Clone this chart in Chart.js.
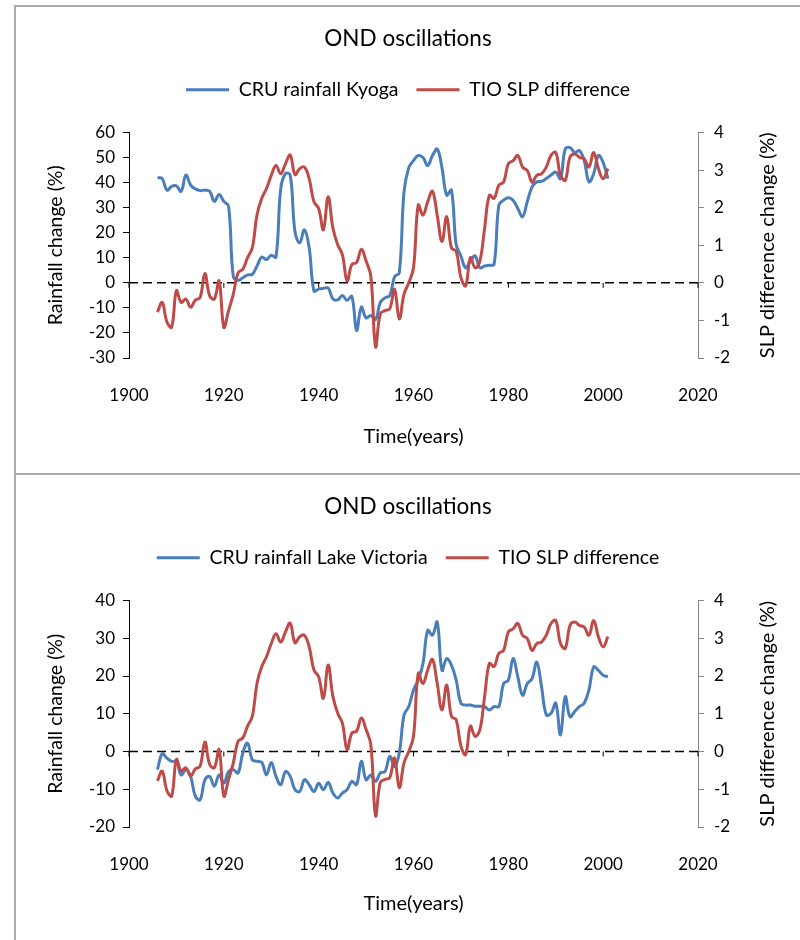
<!DOCTYPE html>
<html>
<head>
<meta charset="utf-8">
<title>OND oscillations</title>
<script src="https://cdn.jsdelivr.net/npm/chart.js@4.4.1/dist/chart.umd.min.js"></script>
<style>
body { margin: 0; background: #fff; width: 800px; height: 940px; overflow: hidden; position: relative; }
.box { position: absolute; left: 14px; width: 800px; border-top: 2px solid #ababab; border-left: 2px solid #ababab; box-sizing: border-box; }
#box1 { top: 5px; height: 468px; }
#box2 { top: 473px; height: 480px; }
canvas { display: block; }
</style>
</head>
<body>
<div class="box" id="box1"><canvas id="chart1" width="784" height="466"></canvas></div>
<div class="box" id="box2"><canvas id="chart2" width="784" height="465"></canvas></div>
<script>
// values, one per year
var years = [1906, 1907, 1908, 1909, 1910, 1911, 1912, 1913, 1914, 1915,
  1916, 1917, 1918, 1919, 1920, 1921, 1922, 1923, 1924, 1925,
  1926, 1927, 1928, 1929, 1930, 1931, 1932, 1933, 1934, 1935,
  1936, 1937, 1938, 1939, 1940, 1941, 1942, 1943, 1944, 1945,
  1946, 1947, 1948, 1949, 1950, 1951, 1952, 1953, 1954, 1955,
  1956, 1957, 1958, 1959, 1960, 1961, 1962, 1963, 1964, 1965,
  1966, 1967, 1968, 1969, 1970, 1971, 1972, 1973, 1974, 1975,
  1976, 1977, 1978, 1979, 1980, 1981, 1982, 1983, 1984, 1985,
  1986, 1987, 1988, 1989, 1990, 1991, 1992, 1993, 1994, 1995,
  1996, 1997, 1998, 1999, 2000, 2001]

// CRU rainfall Kyoga (%)
var kyoga = [42, 41.6, 37, 38.5, 38.7, 36.5, 43, 39, 37.5, 36.8,
  37, 36.6, 32.5, 35.3, 32.5, 30.5, 2.5, 1, 2, 3.2,
  3.4, 6.7, 10.3, 9.3, 11, 10.3, 37.6, 43.6, 43, 20.5,
  16, 21.2, 14, -3.2, -2.5, -2.2, -2.1, -6.4, -6.8, -5.1,
  -7, -5.4, -19, -9.7, -14, -13, -14.7, -7.8, -6, -5.1,
  2.4, 4, 36.3, 46, 48.8, 50.8, 50, 46.8, 50.8, 53.4,
  46, 35, 37, 15.3, 10.7, 6, 8.7, 10.7, 6, 6.7,
  7, 7.4, 31, 33, 34, 33, 29.7, 26.4, 32.4, 38.3,
  40.3, 40.5, 41.6, 43, 44.2, 41.6, 53.4, 54, 52, 52.8,
  48.8, 40.3, 43.5, 50.8, 48, 41.6]

// CRU rainfall Lake Victoria (%)
var victoria = [-4.8, -0.6, -1.8, -2.6, -2.6, -6.2, -4.8, -6.6, -11.9, -12.8,
  -7.5, -6.6, -9.2, -6.2, -8.4, -5.3, -4.8, -5.7, -0.4, 2.2,
  -2.2, -2.6, -2.9, -6.2, -2.9, -6.6, -8.8, -5.3, -6.6, -10.1,
  -10.6, -7.5, -8.8, -10.6, -8.4, -10.1, -8.2, -11, -12.3, -11,
  -10.1, -7.9, -8.8, -2.6, -7.5, -6.2, -7.9, -5.7, -5.3, -1.3,
  -4, -0.4, 9.7, 11.9, 16.3, 18.9, 23.3, 32.1, 30.8, 34.3,
  21.5, 24.6, 22.9, 18.9, 12.8, 12.3, 12.3, 12, 12, 11.9,
  11, 11.9, 11.9, 18, 18.9, 24.6, 19.8, 14.9, 18, 19.3,
  23.7, 17.2, 9.7, 10.1, 12.8, 4.4, 14.5, 9.2, 10.6, 11.9,
  12.8, 16.3, 22.4, 21.5, 20.2, 19.8]

// TIO SLP difference change (%), same series in both panels
var slp = [-0.78, -0.52, -1.04, -1.18, -0.21, -0.52, -0.43, -0.65, -0.46, -0.39,
  0.25, -0.34, -0.43, 0.05, -1.18, -0.74, -0.3, 0.27, 0.36, 0.67,
  0.93, 1.81, 2.25, 2.51, 2.86, 3.12, 2.9, 3.17, 3.4, 2.88,
  3.04, 3.08, 2.77, 2.16, 1.98, 1.41, 2.29, 1.46, 1.02, 0.75,
  0.05, 0.49, 0.54, 0.89, 0.58, 0.18, -1.7, -0.82, -0.74, -0.69,
  -0.17, -0.96, -0.3, 0, 0.4, 2.07, 1.8, 2.16, 2.44, 1.8,
  1.1, 1.76, 0.93, 0.84, 0.14, -0.08, 0.67, 0.4, 0.58, 1.46,
  2.33, 2.25, 2.6, 2.68, 3.17, 3.25, 3.39, 3.08, 2.99, 2.68,
  2.86, 2.9, 3.08, 3.39, 3.47, 2.86, 2.73, 3.34, 3.43, 3.34,
  3.3, 3.08, 3.47, 3.04, 2.77, 3.04]

// tick labels
var xTicks = [1900, 1920, 1940, 1960, 1980, 2000, 2020]
var kyogaTicks = [-30, -20, -10, 0, 10, 20, 30, 40, 50, 60]
var victoriaTicks = [-20, -10, 0, 10, 20, 30, 40]
var slpTicks = [-2, -1, 0, 1, 2, 3, 4]

var blue = '#4a7ebb'
var red = '#be4b48'
var fontFamily = 'Lato, "Liberation Sans", sans-serif'

Chart.defaults.font.family = fontFamily
Chart.defaults.color = '#000'

function toPoints(values) {
  return years.map(function (yr, i) { return {x: yr, y: values[i]} })
}

function setTicks(list) {
  return function (scale) {
    scale.ticks = list.map(function (v) { return {value: v} })
  }
}

// dashed horizontal axis at zero with its small tick marks
var zeroLine = {
  id: 'zeroLine',
  beforeDatasetsDraw: function (chart) {
    var c = chart.ctx, area = chart.chartArea
    var y0 = chart.scales.y.getPixelForValue(0)
    c.save()
    c.strokeStyle = '#000'
    c.lineWidth = 1.5
    c.setLineDash([9, 5])
    c.beginPath()
    c.moveTo(area.left, y0)
    c.lineTo(area.right, y0)
    c.stroke()
    c.setLineDash([])
    c.lineWidth = 1
    chart.scales.x.ticks.forEach(function (t) {
      var px = chart.scales.x.getPixelForValue(t.value)
      c.beginPath()
      c.moveTo(px, y0)
      c.lineTo(px, y0 + 5)
      c.stroke()
    })
    c.restore()
  }
}

// right axis title reads bottom to top, like the left one
var rightTitle = {
  id: 'rightTitle',
  afterDraw: function (chart) {
    var s = chart.scales.y2, c = chart.ctx, area = chart.chartArea
    c.save()
    c.font = '20px ' + fontFamily
    c.fillStyle = '#000'
    c.textAlign = 'center'
    c.textBaseline = 'middle'
    c.translate(s.left + 70, (area.top + area.bottom) / 2)
    c.rotate(-Math.PI / 2)
    c.fillText('SLP difference change (%)', 0, 0)
    c.restore()
  }
}

// some room between legend and plot
var legendGap = {
  id: 'legendGap',
  beforeUpdate: function (chart) {
    var lg = chart.legend
    if (lg && !lg._gap) {
      var fit = lg.fit
      lg.fit = function () { fit.call(this); this.height += 23 }
      lg._gap = true
    }
  }
}

function makeChart(id, rainLabel, rainData, rainTicks, xHeight) {
  var ctx = document.getElementById(id).getContext('2d')
  return new Chart(ctx, {
    type: 'line',
    data: {
      datasets: [{
        label: rainLabel,
        data: toPoints(rainData),
        borderColor: blue,
        backgroundColor: blue,
        borderWidth: 3,
        pointRadius: 0,
        pointStyle: 'line',
        tension: 0.4,
        yAxisID: 'y',
        order: 1
      }, {
        label: 'TIO SLP difference',
        data: toPoints(slp),
        borderColor: red,
        backgroundColor: red,
        borderWidth: 3,
        pointRadius: 0,
        pointStyle: 'line',
        tension: 0.4,
        yAxisID: 'y2',
        order: 0
      }]
    },
    options: {
      responsive: false,
      animation: false,
      layout: {padding: 0},
      plugins: {
        title: {
          display: true,
          text: 'OND oscillations',
          font: {size: 22.5, weight: 'normal'},
          color: '#000',
          padding: {top: 18, bottom: 10}
        },
        legend: {
          position: 'top',
          labels: {
            usePointStyle: true,
            pointStyle: 'line',
            pointStyleWidth: 43,
            padding: 18,
            font: {size: 19.5},
            color: '#000',
            sort: function (a, b) { return a.datasetIndex - b.datasetIndex }
          }
        },
        tooltip: {enabled: false}
      },
      scales: {
        x: {
          type: 'linear',
          min: xTicks[0],
          max: xTicks[xTicks.length - 1],
          afterBuildTicks: setTicks(xTicks),
          ticks: {padding: 27, font: {size: 17}, color: '#000', maxRotation: 0,
            callback: function (v) { return String(v) }},
          grid: {display: false, drawTicks: false},
          border: {display: false},
          title: {display: true, text: 'Time(years)', font: {size: 20}, color: '#000',
            padding: {top: 0, bottom: 24}},
          afterFit: function (s) { s.height = xHeight }
        },
        y: {
          position: 'left',
          min: rainTicks[0],
          max: rainTicks[rainTicks.length - 1],
          afterBuildTicks: setTicks(rainTicks),
          ticks: {padding: 8, font: {size: 17}, color: '#000'},
          grid: {drawOnChartArea: false, tickLength: 6, color: '#000'},
          border: {color: '#000'},
          title: {display: true, text: 'Rainfall change (%)', font: {size: 19.5}, color: '#000',
            padding: {top: 28, bottom: 0}},
          afterFit: function (s) { s.width = 113 }
        },
        y2: {
          position: 'right',
          min: slpTicks[0],
          max: slpTicks[slpTicks.length - 1],
          afterBuildTicks: setTicks(slpTicks),
          ticks: {padding: 10, font: {size: 17}, color: '#000'},
          grid: {drawOnChartArea: false, tickLength: 6, color: '#868686'},
          border: {color: '#868686'},
          afterFit: function (s) { s.width = 102 }
        }
      }
    },
    plugins: [zeroLine, rightTitle, legendGap]
  })
}

makeChart('chart1', 'CRU rainfall Kyoga', kyoga, kyogaTicks, 115)
makeChart('chart2', 'CRU rainfall Lake Victoria', victoria, victoriaTicks, 113)
</script>
</body>
</html>
